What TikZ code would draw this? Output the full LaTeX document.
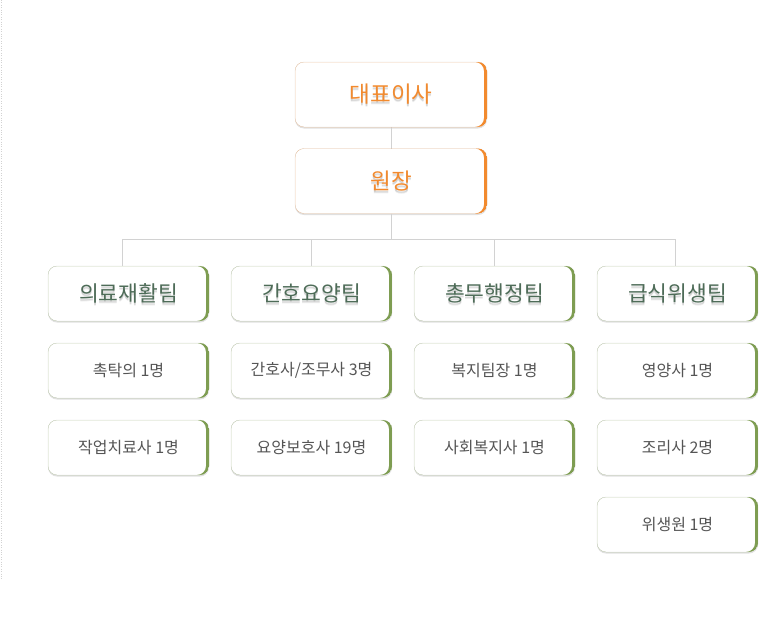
\documentclass[tikz,border=0pt]{standalone}
\usepackage{fontspec}
\setmainfont{Noto Sans CJK KR}
\usetikzlibrary{shadows}
\definecolor{headorange}{HTML}{F28A2E}
\definecolor{teamgreen}{HTML}{7E9D52}
\definecolor{teamtext}{HTML}{4E6C58}
\definecolor{linegray}{HTML}{D2D2D2}
\definecolor{boxgray}{HTML}{E0E0E0}
\definecolor{membertext}{HTML}{555555}
\newcommand\headfont{\fontsize{22.5}{27}\selectfont}
\newcommand\teamfont{\fontsize{21.5}{26}\selectfont}
\newcommand\memberfont{\fontsize{16}{19}\selectfont}
\tikzset{
  card/.style={rectangle, rounded corners=9pt, draw=boxgray, fill=white,
    outer sep=0pt, inner sep=0pt,
    drop shadow={shadow xshift=0pt, shadow yshift=-1.5pt, opacity=0.12, fill=black}},
  glow/.style 2 args={path picture={
    \foreach \dy/\op in {-1.6/0.12,-2.8/0.07}
      \node[font=#1, text=black, opacity=\op, inner sep=0pt]
        at ([yshift=\dy pt]path picture bounding box.center) {#2};}},
  head/.style={card, minimum width=192pt, minimum height=65pt,
    text=headorange, font=\headfont, glow={\headfont}{#1}},
  team/.style={card, minimum width=161pt, minimum height=55pt,
    text=teamtext, font=\teamfont, glow={\teamfont}{#1}},
  member/.style={card, minimum width=161pt, minimum height=55pt,
    text=membertext, font=\memberfont},
  link/.style={draw=linegray, line width=1pt}
}
% coloured right border of a card
\newcommand\rightedge[2]{%
  \begin{scope}
    \clip[rounded corners=9pt] (#1.south west) rectangle (#1.north east);
    \fill[#2, even odd rule, rounded corners=9pt]
      (#1.south west) rectangle (#1.north east)
      ([xshift=-3pt]#1.south west) rectangle ([xshift=-3pt]#1.north east);
  \end{scope}}
\begin{document}
\begin{tikzpicture}[x=1pt,y=-1pt]
\useasboundingbox (0,0) rectangle (781,621);
\draw [linegray, dotted] (1,0) -- (1,580);
% head
\node[head=대표이사] (ceo) at (391,94.5) {대표이사};
\node[head=원장] (dir) at (391,181) {원장};
% teams
\node[team=의료재활팀] (rehab) at (128.5,293.5) {의료재활팀};
\node[team=간호요양팀] (nurse) at (311.5,293.5) {간호요양팀};
\node[team=총무행정팀] (admin) at (494.5,293.5) {총무행정팀};
\node[team=급식위생팀] (meal)  at (677.5,293.5) {급식위생팀};
% members
\node[member] (rehabA) at (128.5,370.5) {촉탁의 1명};
\node[member] (rehabB) at (128.5,447.5) {작업치료사 1명};
\node[member] (nurseA) at (311.5,370.5) {간호사/조무사 3명};
\node[member] (nurseB) at (311.5,447.5) {요양보호사 19명};
\node[member] (adminA) at (494.5,370.5) {복지팀장 1명};
\node[member] (adminB) at (494.5,447.5) {사회복지사 1명};
\node[member] (mealA)  at (677.5,370.5) {영양사 1명};
\node[member] (mealB)  at (677.5,447.5) {조리사 2명};
\node[member] (mealC)  at (677.5,524.5) {위생원 1명};
% links
\draw[link] (ceo) -- (dir);
\draw[link] (dir.south) -- ++(0,26) coordinate (bus);
\draw[link] ([xshift=-6pt]rehab.north) |- (bus) -| ([xshift=-2pt]meal.north);
\draw[link] (nurse.north) -- (nurse.north |- bus);
\draw[link] (admin.north) -- (admin.north |- bus);
% right borders
\foreach \n in {ceo,dir}
  {\rightedge{\n}{headorange}}
\foreach \n in {rehab,nurse,admin,meal,rehabA,rehabB,nurseA,nurseB,adminA,adminB,mealA,mealB,mealC}
  {\rightedge{\n}{teamgreen}}
\end{tikzpicture}
\end{document}
